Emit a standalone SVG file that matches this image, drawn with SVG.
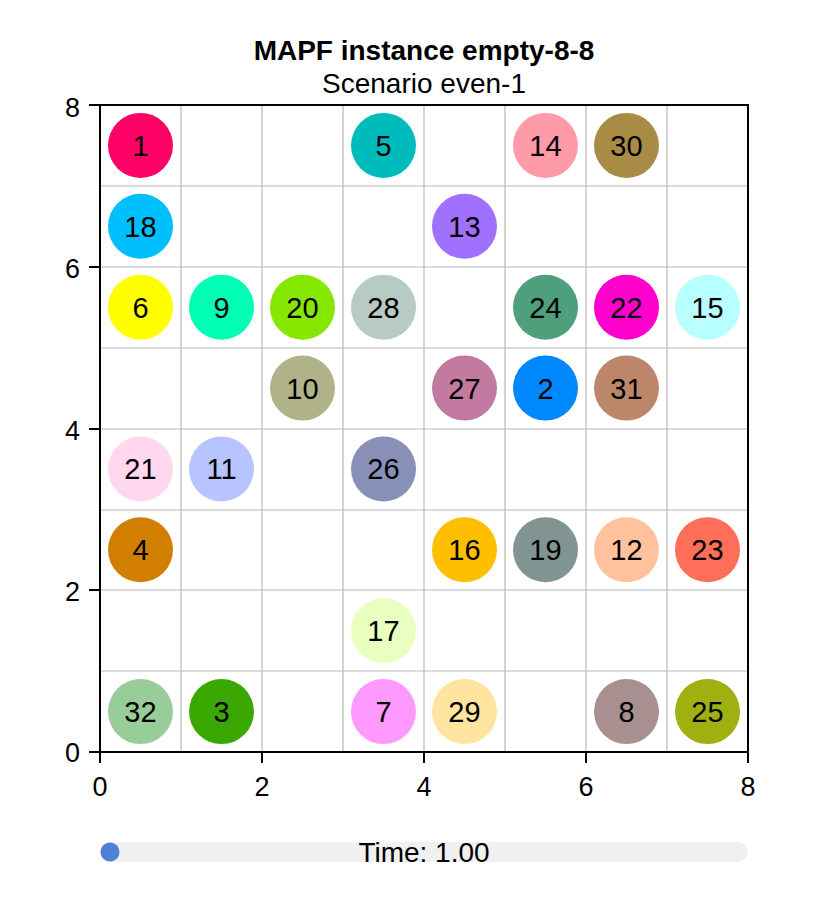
<svg xmlns="http://www.w3.org/2000/svg" width="814" height="900" viewBox="0 0 814 900">
<style>
text{font-family:"Liberation Sans",Arial,sans-serif;fill:#000}
.t{font-size:29px;text-anchor:middle}
.tick{font-size:27px}
.g{stroke:#b8b8b8;stroke-width:1.2}
.ax{stroke:#000;stroke-width:2;fill:none}
</style>
<rect width="814" height="900" fill="#fff"/>
<text x="424" y="60" text-anchor="middle" font-size="28" font-weight="bold">MAPF instance empty-8-8</text>
<text x="424" y="93" text-anchor="middle" font-size="28">Scenario even-1</text>
<g id="grid">
<line class="g" x1="181" y1="105" x2="181" y2="752"/>
<line class="g" x1="262" y1="105" x2="262" y2="752"/>
<line class="g" x1="343" y1="105" x2="343" y2="752"/>
<line class="g" x1="424" y1="105" x2="424" y2="752"/>
<line class="g" x1="505" y1="105" x2="505" y2="752"/>
<line class="g" x1="586" y1="105" x2="586" y2="752"/>
<line class="g" x1="667" y1="105" x2="667" y2="752"/>
<line class="g" x1="100" y1="186" x2="748" y2="186"/>
<line class="g" x1="100" y1="267" x2="748" y2="267"/>
<line class="g" x1="100" y1="348" x2="748" y2="348"/>
<line class="g" x1="100" y1="429" x2="748" y2="429"/>
<line class="g" x1="100" y1="510" x2="748" y2="510"/>
<line class="g" x1="100" y1="590" x2="748" y2="590"/>
<line class="g" x1="100" y1="671" x2="748" y2="671"/>
</g>
<g id="axes">
<rect class="ax" x="100" y="105" width="648" height="647"/>
<path class="ax" d="M89 105H100M89 267H100M89 429H100M89 590H100M89 752H100M100 752V763M262 752V763M424 752V763M586 752V763M748 752V763"/>
<text class="tick" x="80" y="117" text-anchor="end">8</text>
<text class="tick" x="80" y="278" text-anchor="end">6</text>
<text class="tick" x="80" y="440" text-anchor="end">4</text>
<text class="tick" x="80" y="601" text-anchor="end">2</text>
<text class="tick" x="80" y="762" text-anchor="end">0</text>
<text class="tick" x="100" y="796" text-anchor="middle">0</text>
<text class="tick" x="262" y="796" text-anchor="middle">2</text>
<text class="tick" x="424" y="796" text-anchor="middle">4</text>
<text class="tick" x="586" y="796" text-anchor="middle">6</text>
<text class="tick" x="748" y="796" text-anchor="middle">8</text>
</g>
<g id="connectors"></g>
<g id="a1"><circle cx="140.5" cy="145.4" r="32.5" fill="#ff0066"/><text class="t" x="140.5" y="155.5">1</text></g>
<g id="a5"><circle cx="383.5" cy="145.4" r="32.5" fill="#00bbbb"/><text class="t" x="383.5" y="155.5">5</text></g>
<g id="a14"><circle cx="545.5" cy="145.4" r="32.5" fill="#ff9aa8"/><text class="t" x="545.5" y="155.5">14</text></g>
<g id="a30"><circle cx="626.5" cy="145.4" r="32.5" fill="#a88c45"/><text class="t" x="626.5" y="155.5">30</text></g>
<g id="a18"><circle cx="140.5" cy="226.3" r="32.5" fill="#00bfff"/><text class="t" x="140.5" y="236.5">18</text></g>
<g id="a13"><circle cx="464.5" cy="226.3" r="32.5" fill="#a070ff"/><text class="t" x="464.5" y="236.5">13</text></g>
<g id="a6"><circle cx="140.5" cy="307.2" r="32.5" fill="#ffff00"/><text class="t" x="140.5" y="317.5">6</text></g>
<g id="a9"><circle cx="221.5" cy="307.2" r="32.5" fill="#00ffb4"/><text class="t" x="221.5" y="317.5">9</text></g>
<g id="a20"><circle cx="302.5" cy="307.2" r="32.5" fill="#86e800"/><text class="t" x="302.5" y="317.5">20</text></g>
<g id="a28"><circle cx="383.5" cy="307.2" r="32.5" fill="#b8cac6"/><text class="t" x="383.5" y="317.5">28</text></g>
<g id="a24"><circle cx="545.5" cy="307.2" r="32.5" fill="#4ea07c"/><text class="t" x="545.5" y="317.5">24</text></g>
<g id="a22"><circle cx="626.5" cy="307.2" r="32.5" fill="#ff00cc"/><text class="t" x="626.5" y="317.5">22</text></g>
<g id="a15"><circle cx="707.5" cy="307.2" r="32.5" fill="#b8ffff"/><text class="t" x="707.5" y="317.5">15</text></g>
<g id="a10"><circle cx="302.5" cy="388.1" r="32.5" fill="#b0b38a"/><text class="t" x="302.5" y="398.5">10</text></g>
<g id="a27"><circle cx="464.5" cy="388.1" r="32.5" fill="#c27aa0"/><text class="t" x="464.5" y="398.5">27</text></g>
<g id="a2"><circle cx="545.5" cy="388.1" r="32.5" fill="#0088ff"/><text class="t" x="545.5" y="398.5">2</text></g>
<g id="a31"><circle cx="626.5" cy="388.1" r="32.5" fill="#bc866a"/><text class="t" x="626.5" y="398.5">31</text></g>
<g id="a21"><circle cx="140.5" cy="469" r="32.5" fill="#ffd8f0"/><text class="t" x="140.5" y="479">21</text></g>
<g id="a11"><circle cx="221.5" cy="469" r="32.5" fill="#b8c4ff"/><text class="t" x="221.5" y="479">11</text></g>
<g id="a26"><circle cx="383.5" cy="469" r="32.5" fill="#8890b8"/><text class="t" x="383.5" y="479">26</text></g>
<g id="a4"><circle cx="140.5" cy="549.8" r="32.5" fill="#d27e00"/><text class="t" x="140.5" y="560">4</text></g>
<g id="a16"><circle cx="464.5" cy="549.8" r="32.5" fill="#ffbe00"/><text class="t" x="464.5" y="560">16</text></g>
<g id="a19"><circle cx="545.5" cy="549.8" r="32.5" fill="#809592"/><text class="t" x="545.5" y="560">19</text></g>
<g id="a12"><circle cx="626.5" cy="549.8" r="32.5" fill="#ffc29c"/><text class="t" x="626.5" y="560">12</text></g>
<g id="a23"><circle cx="707.5" cy="549.8" r="32.5" fill="#ff6e58"/><text class="t" x="707.5" y="560">23</text></g>
<g id="a17"><circle cx="383.5" cy="630.7" r="32.5" fill="#e8ffc0"/><text class="t" x="383.5" y="641">17</text></g>
<g id="a32"><circle cx="140.5" cy="711.6" r="32.5" fill="#98cc98"/><text class="t" x="140.5" y="722">32</text></g>
<g id="a3"><circle cx="221.5" cy="711.6" r="32.5" fill="#3aa800"/><text class="t" x="221.5" y="722">3</text></g>
<g id="a7"><circle cx="383.5" cy="711.6" r="32.5" fill="#ff98ff"/><text class="t" x="383.5" y="722">7</text></g>
<g id="a29"><circle cx="464.5" cy="711.6" r="32.5" fill="#ffe4a0"/><text class="t" x="464.5" y="722">29</text></g>
<g id="a8"><circle cx="626.5" cy="711.6" r="32.5" fill="#a89090"/><text class="t" x="626.5" y="722">8</text></g>
<g id="a25"><circle cx="707.5" cy="711.6" r="32.5" fill="#a0b010"/><text class="t" x="707.5" y="722">25</text></g>
<g id="slider">
<rect x="100" y="842" width="648" height="20" rx="10" fill="#f0f0f0"/>
<circle cx="110" cy="852" r="9.5" fill="#4f7fd8"/>
<text x="424" y="862" text-anchor="middle" font-size="28">Time: 1.00</text>
</g>
</svg>
